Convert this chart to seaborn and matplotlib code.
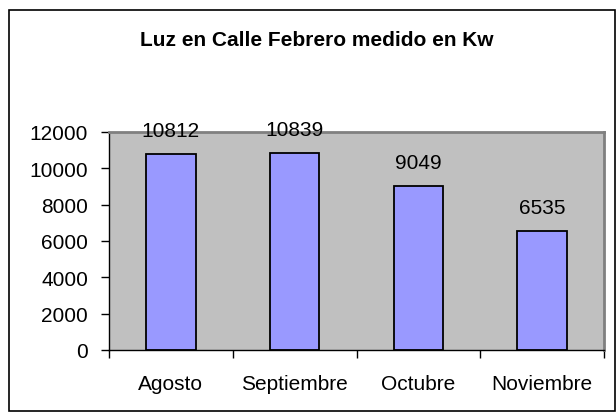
import matplotlib
matplotlib.use("Agg")
import matplotlib.pyplot as plt
import seaborn as sns
import pandas as pd
from matplotlib.patches import Rectangle

meses = ["Agosto", "Septiembre", "Octubre", "Noviembre"]
consumo = [10812, 10839, 9049, 6535]
yticks = [0, 2000, 4000, 6000, 8000, 10000, 12000]
titulo = "Luz en Calle Febrero medido en Kw"

sns.set_style("white")
plt.rcParams['font.family'] = ['Liberation Sans', 'DejaVu Sans']
plt.rcParams['text.color'] = 'black'
plt.rcParams['xtick.color'] = 'black'
plt.rcParams['ytick.color'] = 'black'
plt.rcParams['axes.labelcolor'] = 'black'

df = pd.DataFrame({"mes": meses, "kw": consumo})

fig = plt.figure(figsize=(6.16, 4.14), dpi=100)
ax = fig.add_axes([109/616, 1-351/414, (604-109)/616, (351-133)/414])
ax.set_facecolor("#C0C0C0")

sns.barplot(data=df, x="mes", y="kw", ax=ax, color="#9999FF", saturation=1,
            width=0.4, edgecolor="black", linewidth=1.3)

ax.set_xlim(-0.5, len(meses) - 0.5)
ax.set_ylim(0, 12000)
ax.set_yticks(yticks)
ax.set_yticklabels([str(v) for v in yticks], fontsize=15)
ax.set_xlabel("")
ax.set_ylabel("")
ax.tick_params(axis="y", direction="out", length=6, width=1, colors="black", pad=9, left=True)
ax.tick_params(axis="x", which="major", length=0, pad=17, labelsize=15, colors="black")
ax.set_xticks([i + 0.5 for i in range(-1, len(meses))], minor=True)
ax.tick_params(axis="x", which="minor", direction="out", length=6, width=1, color="black", bottom=True)

for s in ["left", "bottom"]:
    ax.spines[s].set_color("black")
    ax.spines[s].set_linewidth(1)
for s in ["top", "right"]:
    ax.spines[s].set_color("#808080")
    ax.spines[s].set_linewidth(2)

for i, v in enumerate(consumo):
    ax.annotate(str(v), (i, v), xytext=(0, 10), textcoords="offset points",
                ha="center", va="bottom", fontsize=15, color="black")

fig.text(317/616, 1-41/414, titulo, ha="center", va="center", fontsize=15,
         fontweight="bold", color="black")

fig.patches.append(Rectangle((9/616, 2/414), (615-9)/616, (412-11)/414,
                             transform=fig.transFigure, fill=False,
                             edgecolor="black", linewidth=1.2))

fig.savefig("out.png", dpi=100)
